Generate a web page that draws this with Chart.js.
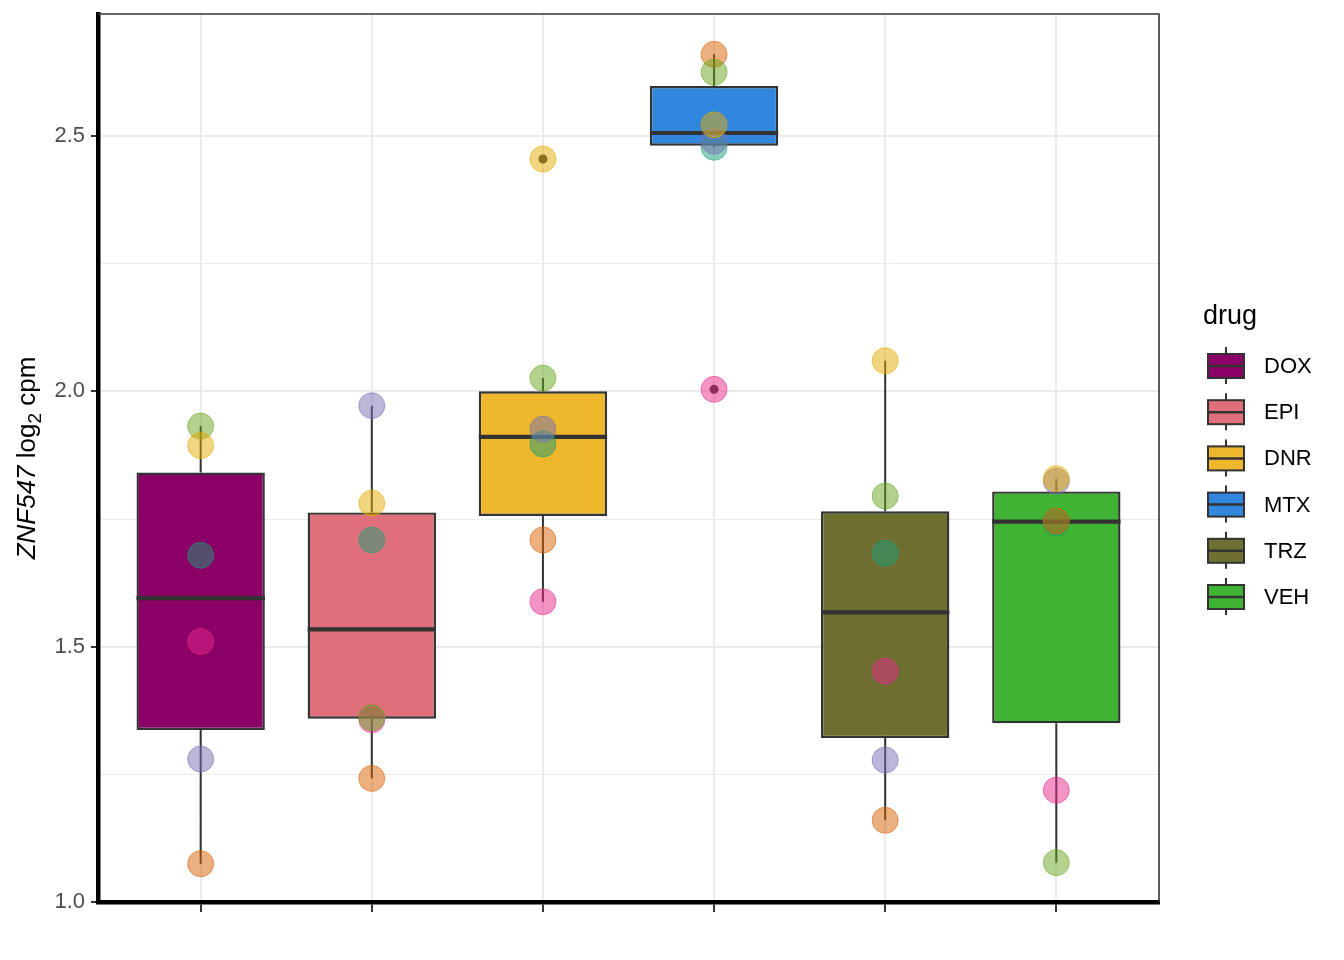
<!DOCTYPE html>
<html>
<head>
<meta charset="utf-8">
<script src="https://cdn.jsdelivr.net/npm/chart.js@4.4.0/dist/chart.umd.min.js"></script>
<style>
  html, body { margin: 0; padding: 0; background: #ffffff; }
  #wrap { width: 1344px; height: 960px; position: relative; }
</style>
</head>
<body>
<div id="wrap"><canvas id="c" width="1344" height="960"></canvas></div>
<script>
// ---------------- DATA ----------------
const drugs = ['DOX', 'EPI', 'DNR', 'MTX', 'TRZ', 'VEH'];
const drugColors = ['#8B0066', '#DF707B', '#EFB72B', '#3186DE', '#6F6F32', '#40B334'];

// box statistics
const q1 = [1.337, 1.359, 1.756, 2.481, 1.321, 1.350];
const median = [1.595, 1.534, 1.911, 2.506, 1.567, 1.745];
const q3 = [1.841, 1.763, 2.000, 2.598, 1.765, 1.804];
const whiskerLow = [1.075, 1.242, 1.588, 2.478, 1.160, 1.077];
const whiskerHigh = [1.932, 1.972, 2.026, 2.660, 2.060, 1.829];
const outlierDrug = [2, 3];
const outlierValue = [2.455, 2.004];

// individual points (one value per drug, in drug order)
const individuals = ['ind1', 'ind2', 'ind3', 'ind4', 'ind5', 'ind6'];
const indColors = ['#1B9E77', '#D95F02', '#7570B3', '#E7298A', '#66A61E', '#E6AB02'];
const ind1 = [1.679, 1.709, 1.897, 2.478, 1.683, 1.743];
const ind2 = [1.075, 1.242, 1.709, 2.660, 1.160, 1.746];
const ind3 = [1.280, 1.972, 1.926, 2.490, 1.278, 1.824];
const ind4 = [1.510, 1.357, 1.588, 2.004, 1.452, 1.219];
const ind5 = [1.932, 1.361, 2.026, 2.625, 1.795, 1.077];
const ind6 = [1.894, 1.781, 2.455, 2.522, 2.060, 1.829];
const indValues = [ind1, ind2, ind3, ind4, ind5, ind6];

const yTicks = [1.0, 1.25, 1.5, 1.75, 2.0, 2.25, 2.5];
const yMin = 1.0, yMax = 2.739;
const boxWidth = 0.75;

// ---------------- helpers ----------------
function rgba(hex, a) {
  const n = parseInt(hex.slice(1), 16);
  return `rgba(${(n >> 16) & 255},${(n >> 8) & 255},${n & 255},${a})`;
}
const FONT = '"Liberation Sans", Arial, Helvetica, sans-serif';
const isMajor = v => Math.abs(v * 2 - Math.round(v * 2)) < 1e-6;

// whisker segments
const whiskerData = [];
drugs.forEach((d, i) => {
  whiskerData.push({x: i, y: whiskerLow[i]}, {x: i, y: q1[i]}, {x: i, y: null});
  whiskerData.push({x: i, y: q3[i]}, {x: i, y: whiskerHigh[i]}, {x: i, y: null});
});
// median segments
const medianData = [];
drugs.forEach((d, i) => {
  medianData.push({x: i - boxWidth / 2, y: median[i]}, {x: i + boxWidth / 2, y: median[i]}, {x: i, y: null});
});

const datasets = [];
datasets.push({
  type: 'scatter', label: 'whiskers', data: whiskerData, showLine: true, spanGaps: false,
  borderColor: '#333333', borderWidth: 2, pointRadius: 0, order: 10
});
datasets.push({
  type: 'bar', label: 'boxes',
  data: drugs.map((d, i) => ({x: i, y: [q1[i], q3[i]]})),
  backgroundColor: drugColors, borderColor: '#333333', borderWidth: 2.4,
  borderSkipped: false, categoryPercentage: boxWidth, barPercentage: 1, order: 9
});
datasets.push({
  type: 'scatter', label: 'medians', data: medianData, showLine: true, spanGaps: false,
  borderColor: '#333333', borderWidth: 4.2, borderCapStyle: 'butt', pointRadius: 0, order: 8
});
datasets.push({
  type: 'scatter', label: 'outliers',
  data: outlierDrug.map((d, k) => ({x: d, y: outlierValue[k]})),
  pointRadius: 4.5, backgroundColor: '#333333', borderColor: '#333333', borderWidth: 0, order: 7
});
individuals.forEach((name, k) => {
  datasets.push({
    type: 'scatter', label: name,
    data: drugs.map((d, i) => ({x: i, y: indValues[k][i]})),
    pointRadius: 13, backgroundColor: rgba(indColors[k], 0.5),
    borderColor: rgba(indColors[k], 0.55), borderWidth: 1, order: 6 - k * 0.1
  });
});

// ---------------- plugins ----------------
const decorPlugin = {
  id: 'decor',
  afterDraw(chart) {
    const ctx = chart.ctx;
    const a = chart.chartArea;
    ctx.save();
    // panel border (top + right)
    ctx.strokeStyle = '#333333';
    ctx.lineWidth = 1.6;
    ctx.beginPath();
    ctx.moveTo(a.left, a.top);
    ctx.lineTo(a.right, a.top);
    ctx.lineTo(a.right, a.bottom);
    ctx.stroke();

    // y axis title
    const cy = (a.top + a.bottom) / 2;
    const parts = [
      {t: 'ZNF547', f: `italic 26px ${FONT}`, dy: 0},
      {t: ' log', f: `26px ${FONT}`, dy: 0},
      {t: '2', f: `19px ${FONT}`, dy: 6},
      {t: ' cpm', f: `26px ${FONT}`, dy: 0}
    ];
    let total = 0;
    parts.forEach(p => { ctx.font = p.f; p.w = ctx.measureText(p.t).width; total += p.w; });
    ctx.translate(35, cy);
    ctx.rotate(-Math.PI / 2);
    ctx.fillStyle = '#000000';
    ctx.textBaseline = 'alphabetic';
    ctx.textAlign = 'left';
    let x = -total / 2;
    parts.forEach(p => { ctx.font = p.f; ctx.fillText(p.t, x, p.dy); x += p.w; });
    ctx.restore();

    // legend
    ctx.save();
    ctx.fillStyle = '#000000';
    ctx.font = `27px ${FONT}`;
    ctx.textBaseline = 'middle';
    ctx.textAlign = 'left';
    ctx.fillText('drug', 1203, 317);
    drugs.forEach((d, i) => {
      const ky = 366 + i * 46.2;
      const kx = 1208, kw = 36, kh = 24;
      ctx.strokeStyle = '#333333';
      ctx.lineWidth = 2;
      ctx.beginPath();
      ctx.moveTo(kx + kw / 2, ky - 19); ctx.lineTo(kx + kw / 2, ky - kh / 2);
      ctx.moveTo(kx + kw / 2, ky + kh / 2); ctx.lineTo(kx + kw / 2, ky + 18);
      ctx.stroke();
      ctx.fillStyle = drugColors[i];
      ctx.fillRect(kx, ky - kh / 2, kw, kh);
      ctx.strokeRect(kx, ky - kh / 2, kw, kh);
      ctx.lineWidth = 2.5;
      ctx.beginPath();
      ctx.moveTo(kx, ky); ctx.lineTo(kx + kw, ky);
      ctx.stroke();
      ctx.fillStyle = '#000000';
      ctx.font = `22px ${FONT}`;
      ctx.fillText(d, 1264, ky + 1);
    });
    ctx.restore();
  }
};

Chart.defaults.font.family = FONT;

new Chart(document.getElementById('c'), {
  type: 'scatter',
  data: { datasets },
  options: {
    responsive: false,
    animation: false,
    devicePixelRatio: 1,
    layout: { padding: { top: 14, right: 185, left: 0, bottom: 0 } },
    plugins: { legend: { display: false }, tooltip: { enabled: false } },
    scales: {
      x: {
        type: 'linear', min: -0.6, max: 5.6, offset: false,
        afterBuildTicks: s => { s.ticks = drugs.map((d, i) => ({value: i})); },
        afterFit: s => { s.height = 58; s.paddingLeft = 0; s.paddingRight = 0; },
        ticks: { display: true, callback: () => '', padding: 0 },
        grid: { color: '#EBEBEB', lineWidth: 2, offset: false, drawTicks: true, tickLength: 10, tickColor: '#333333', tickWidth: 2 },
        border: { display: true, color: '#000000', width: 4.5 }
      },
      y: {
        type: 'linear', min: yMin, max: yMax,
        afterBuildTicks: s => { s.ticks = yTicks.map(v => ({value: v})); },
        afterFit: s => { s.width = 98; s.paddingTop = 0; s.paddingBottom = 0; },
        ticks: {
          callback: v => isMajor(v) ? v.toFixed(1) : '',
          color: '#4D4D4D', font: { size: 22, family: FONT }, padding: 6
        },
        grid: {
          color: '#EBEBEB',
          lineWidth: c => (c.tick && isMajor(c.tick.value)) ? 2 : 1,
          tickLength: 7,
          tickColor: c => (c.tick && isMajor(c.tick.value)) ? '#333333' : 'rgba(0,0,0,0)',
          tickWidth: 2
        },
        border: { display: true, color: '#000000', width: 4.5 }
      }
    }
  },
  plugins: [decorPlugin]
});
</script>
</body>
</html>
